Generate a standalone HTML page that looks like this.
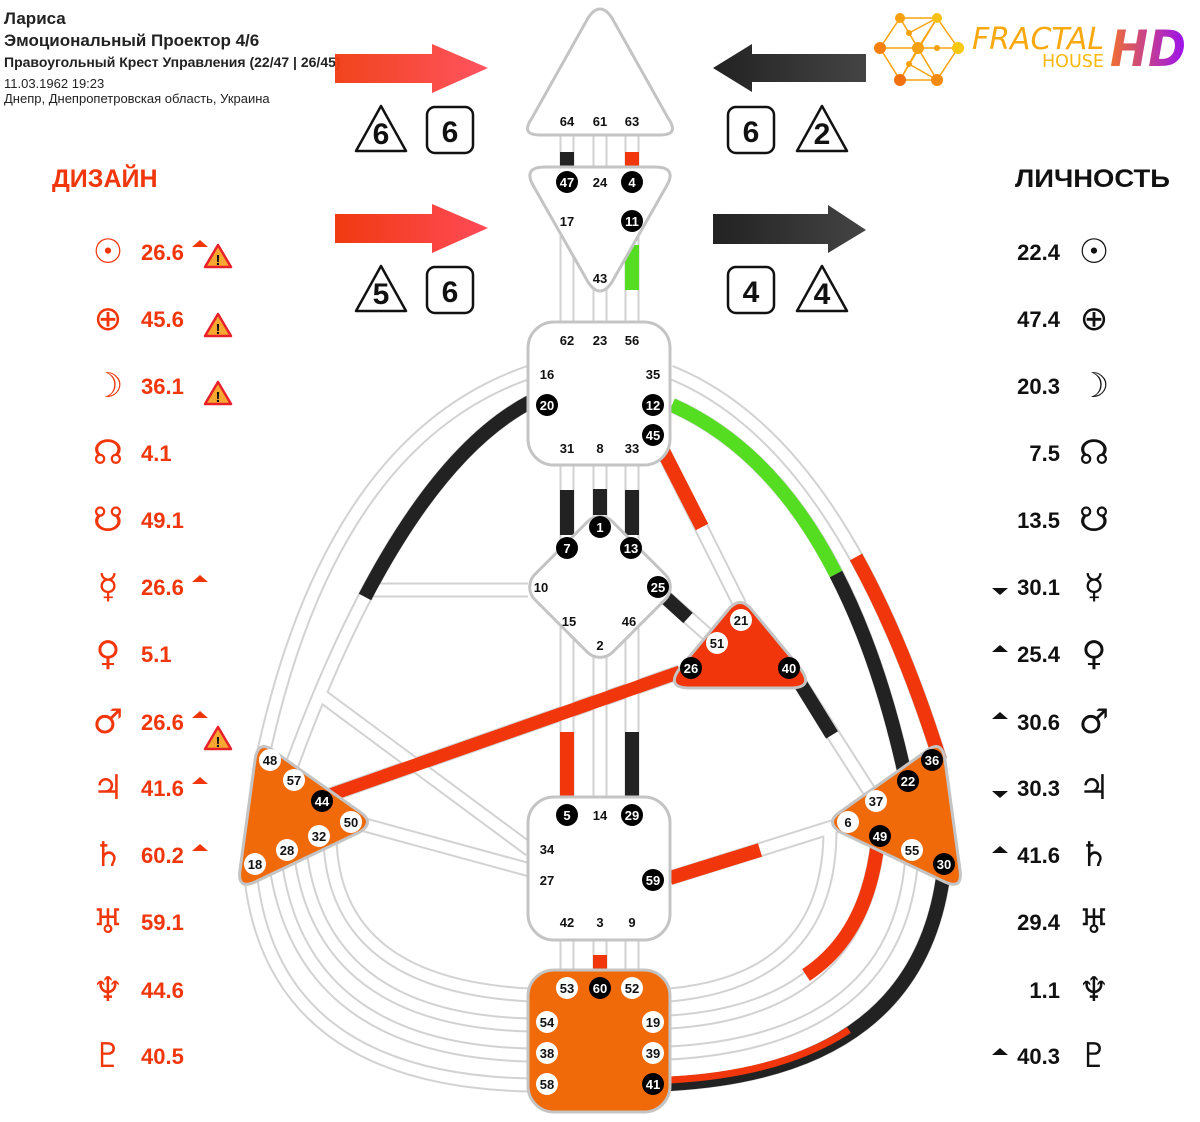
<!DOCTYPE html>
<html><head><meta charset="utf-8"><style>
body{margin:0;background:#fff;}
svg{display:block;font-family:"Liberation Sans","DejaVu Sans",sans-serif;}
.cg{fill:none;stroke:#d2d2d2;stroke-width:15;}
.cw{fill:none;stroke:#fff;stroke-width:11;}
.gt{font-size:13px;font-weight:bold;text-anchor:middle;}
.pl{font-size:22px;font-weight:bold;}
.sy{font-family:"DejaVu Sans",sans-serif;font-size:34px;text-anchor:middle;}
</style></head><body>
<svg width="1200" height="1122" viewBox="0 0 1200 1122">
<defs>
<linearGradient id="rg" x1="0" x2="1"><stop offset="0" stop-color="#f03a10"/><stop offset="1" stop-color="#ff4a58"/></linearGradient>
<linearGradient id="bg" x1="0" x2="1"><stop offset="0" stop-color="#222"/><stop offset="1" stop-color="#444"/></linearGradient>
<linearGradient id="hd" x1="0" x2="1"><stop offset="0" stop-color="#f07030"/><stop offset="1" stop-color="#9a10f0"/></linearGradient>
<g id="ch">
<path d="M567 130V175M600 130V175M632 130V175M567 200V330M600 285V330M632 200V330M567 455V540M600 455V520M632 455V540M567 620V800M600 640V800M632 620V800M567 935V975M600 935V975M632 935V975"/>
<path d="M530 372Q330 440 262 760"/>
<path d="M530 402Q400 470 290 770"/>
<path d="M365 590L528 590"/>
<path d="M318 693L530 850"/>
<path d="M365 825L530 870"/>
<path d="M250 870Q270 1080 530 1085"/>
<path d="M275 860Q300 1050 530 1055"/>
<path d="M300 850Q320 1020 530 1025"/>
<path d="M330 840Q335 985 530 995"/>
<path d="M670 372Q840 440 940 760"/>
<path d="M672 405Q840 480 905 775"/>
<path d="M660 445L740 605"/>
<path d="M665 597L717 643"/>
<path d="M795 675L875 800"/>
<path d="M670 878L848 822"/>
<path d="M878 840Q860 1010 670 1022"/>
<path d="M912 855Q900 1040 670 1053"/>
<path d="M944 870Q920 1070 670 1084"/>
<path d="M830 830Q830 980 670 995"/>
<path d="M680 672L330 795"/>
</g>
</defs>
<!-- header -->
<g fill="#222" font-weight="bold">
<text x="4" y="24" font-size="17">Лариса</text>
<text x="4" y="46" font-size="17">Эмоциональный Проектор 4/6</text>
<text x="4" y="67" font-size="14">Правоугольный Крест Управления (22/47 | 26/45)</text>
</g>
<text x="4" y="88" font-size="13" fill="#222">11.03.1962 19:23</text>
<text x="4" y="103" font-size="13" fill="#222">Днепр, Днепропетровская область, Украина</text>
<!-- arrows -->
<path d="M335 54H432V44L488 68L432 93V83H335Z" fill="url(#rg)" opacity="0.95"/>
<path d="M335 214H432V204L488 228L432 253V243H335Z" fill="url(#rg)"/>
<path d="M866 54H752V44L713 68L752 92V82H866Z" fill="url(#bg)"/>
<path d="M713 214H828V205L866 230L828 253V244H713Z" fill="url(#bg)"/>
<g fill="#fff" stroke="#111" stroke-width="2.5" stroke-linejoin="round">
<path d="M381 106L406 151H356Z"/><rect x="427" y="107" width="46" height="46" rx="8"/>
<rect x="728" y="107" width="46" height="46" rx="8"/><path d="M822 106L847 151H797Z"/>
<path d="M381 266L406 311H356Z"/><rect x="427" y="267" width="46" height="46" rx="8"/>
<rect x="728" y="267" width="46" height="46" rx="8"/><path d="M822 266L847 311H797Z"/>
</g>
<g font-size="30" font-weight="bold" text-anchor="middle" fill="#111">
<text x="381" y="144">6</text><text x="450" y="142">6</text><text x="751" y="142">6</text><text x="822" y="144">2</text>
<text x="381" y="304">5</text><text x="450" y="302">6</text><text x="751" y="302">4</text><text x="822" y="304">4</text>
</g>
<!-- logo -->
<g stroke="#f9a30e" stroke-width="1.5" fill="none">
<path d="M900 18L937 18L958 48L937 80L900 80L880 48Z"/>
<path d="M900 18L937 80M937 18L900 80M880 48L958 48M900 18L918 48L900 80M937 18L918 48L937 80M909 33L937 18M909 64L937 80"/>
</g>
<g fill="#f7a010"><circle cx="900" cy="18" r="5"/><circle cx="937" cy="18" r="5" fill="#f8c010"/><circle cx="880" cy="48" r="6" fill="#f58010"/><circle cx="958" cy="48" r="6" fill="#f8c810"/><circle cx="900" cy="80" r="6" fill="#f37010"/><circle cx="937" cy="80" r="6" fill="#f58a10"/><circle cx="918" cy="48" r="6"/><circle cx="909" cy="33" r="3"/><circle cx="909" cy="64" r="3"/><circle cx="937" cy="48" r="3"/></g>
<text x="972" y="49" font-size="30" font-style="italic" fill="#f9a80e" font-family="'DejaVu Sans',sans-serif" textLength="132" lengthAdjust="spacingAndGlyphs">FRACTAL</text>
<text x="1042" y="67" font-size="18" fill="#f9b80e" font-family="'DejaVu Sans',sans-serif" textLength="62" lengthAdjust="spacingAndGlyphs">HOUSE</text>
<text x="1110" y="66" font-size="50" font-weight="bold" font-style="italic" fill="url(#hd)" font-family="'DejaVu Sans',sans-serif" textLength="76" lengthAdjust="spacingAndGlyphs">HD</text>
<!-- titles -->
<text x="52" y="187" font-size="25" font-weight="bold" fill="#f0360a">ДИЗАЙН</text>
<text x="1015" y="187" font-size="25" font-weight="bold" fill="#111" textLength="155" lengthAdjust="spacingAndGlyphs">ЛИЧНОСТЬ</text>
<!-- channels -->
<use href="#ch" class="cg"/>
<use href="#ch" class="cw"/>
<g fill="none" stroke-width="14">
<path d="M567 152V167M567 490V535M632 490V535M632 732V797" stroke="#222"/>
<path d="M600 489V515" stroke="#222"/>
<path d="M632 152V167M567 732V797M600 955V970" stroke="#f0360a"/>
<path d="M632 245V290" stroke="#55dd22"/>
<path d="M530 402Q443 448 365 597" stroke="#222"/>
<path d="M856 557Q903 642 940 760" stroke="#f0360a"/>
<path d="M672 405Q773 450 836 574" stroke="#55dd22"/>
<path d="M836 574Q879 657 905 775" stroke="#222"/>
<path d="M660 445L702 527" stroke="#f0360a"/>
<path d="M665 597L688 618" stroke="#222"/>
<path d="M795 675L832 735" stroke="#222"/>
<path d="M670 878L760 850" stroke="#f0360a"/>
<path d="M878 840Q868 934 806 975" stroke="#f0360a"/>
<path d="M944 870Q920 1070 670 1084" stroke="#222"/>
<path d="M849 1030Q782 1074 670 1080" stroke="#f0360a" stroke-width="7"/>
<path d="M680 672L330 795" stroke="#f0360a" stroke-width="13"/>
</g>
<!-- centers -->
<g stroke="#c4c4c4" stroke-width="3">
<path d="M588 18Q600 0 612 18L668 118Q680 135 660 135L540 135Q520 135 532 118Z" fill="#fff"/>
<path d="M545 167L655 167Q678 167 666 187L612 282Q600 300 588 282L534 187Q522 167 545 167Z" fill="#fff"/>
<rect x="528" y="322" width="142" height="143" rx="26" fill="#fff"/>
<rect x="545" y="532" width="110" height="110" rx="18" fill="#fff" transform="rotate(45 600 587)"/>
<path d="M728 610Q740 595 752 610L800 668Q815 688 790 688L690 688Q665 688 680 668Z" fill="#f0360a"/>
<path d="M255 760Q258 738 275 752L360 812Q375 822 360 832L255 882Q237 890 240 870Z" fill="#f06a0a"/>
<path d="M945 760Q942 738 925 752L840 812Q825 822 840 832L945 882Q963 890 960 870Z" fill="#f06a0a"/>
<rect x="528" y="797" width="142" height="143" rx="26" fill="#fff"/>
<rect x="528" y="970" width="142" height="142" rx="26" fill="#f06a0a"/>
</g>
<!-- gates black -->
<g fill="#000"><circle cx="567" cy="182" r="11"/><circle cx="632" cy="182" r="11"/><circle cx="632" cy="221" r="11"/><circle cx="547" cy="405" r="11"/><circle cx="653" cy="405" r="11"/><circle cx="653" cy="435" r="11"/><circle cx="600" cy="527" r="11"/><circle cx="567" cy="548" r="11"/><circle cx="631" cy="548" r="11"/><circle cx="658" cy="587" r="11"/><circle cx="691" cy="668" r="11"/><circle cx="789" cy="668" r="11"/><circle cx="322" cy="801" r="11"/><circle cx="932" cy="760" r="11"/><circle cx="908" cy="781" r="11"/><circle cx="880" cy="836" r="11"/><circle cx="944" cy="864" r="11"/><circle cx="567" cy="815" r="11"/><circle cx="632" cy="815" r="11"/><circle cx="653" cy="880" r="11"/><circle cx="600" cy="988" r="11"/><circle cx="653" cy="1084" r="11"/></g>
<g fill="#fff"><circle cx="741" cy="620" r="11"/><circle cx="717" cy="643" r="11"/><circle cx="270" cy="760" r="11"/><circle cx="294" cy="780" r="11"/><circle cx="351" cy="822" r="11"/><circle cx="319" cy="836" r="11"/><circle cx="287" cy="850" r="11"/><circle cx="255" cy="864" r="11"/><circle cx="876" cy="801" r="11"/><circle cx="848" cy="822" r="11"/><circle cx="912" cy="850" r="11"/><circle cx="567" cy="988" r="11"/><circle cx="632" cy="988" r="11"/><circle cx="547" cy="1022" r="11"/><circle cx="653" cy="1022" r="11"/><circle cx="547" cy="1053" r="11"/><circle cx="653" cy="1053" r="11"/><circle cx="547" cy="1084" r="11"/></g>
<g class="gt" fill="#111">
<text x="567" y="126">64</text><text x="600" y="126">61</text><text x="632" y="126">63</text>
<text x="600" y="187">24</text><text x="567" y="226">17</text><text x="600" y="283">43</text>
<text x="567" y="345">62</text><text x="600" y="345">23</text><text x="632" y="345">56</text>
<text x="547" y="379">16</text><text x="653" y="379">35</text>
<text x="567" y="453">31</text><text x="600" y="453">8</text><text x="632" y="453">33</text>
<text x="541" y="592">10</text><text x="569" y="626">15</text><text x="629" y="626">46</text><text x="600" y="650">2</text>
<text x="600" y="820">14</text><text x="547" y="854">34</text><text x="547" y="885">27</text>
<text x="567" y="927">42</text><text x="600" y="927">3</text><text x="632" y="927">9</text>
<text x="741" y="625">21</text><text x="717" y="648">51</text>
<text x="270" y="765">48</text><text x="294" y="785">57</text><text x="351" y="827">50</text><text x="319" y="841">32</text><text x="287" y="855">28</text><text x="255" y="869">18</text>
<text x="876" y="806">37</text><text x="848" y="827">6</text><text x="912" y="855">55</text>
<text x="567" y="993">53</text><text x="632" y="993">52</text><text x="547" y="1027">54</text><text x="653" y="1027">19</text><text x="547" y="1058">38</text><text x="653" y="1058">39</text><text x="547" y="1089">58</text>
</g>
<g class="gt" fill="#fff">
<text x="567" y="187">47</text><text x="632" y="187">4</text><text x="632" y="226">11</text>
<text x="547" y="410">20</text><text x="653" y="410">12</text><text x="653" y="440">45</text>
<text x="600" y="532">1</text><text x="567" y="553">7</text><text x="631" y="553">13</text><text x="658" y="592">25</text>
<text x="691" y="673">26</text><text x="789" y="673">40</text><text x="322" y="806">44</text>
<text x="932" y="765">36</text><text x="908" y="786">22</text><text x="880" y="841">49</text><text x="944" y="869">30</text>
<text x="567" y="820">5</text><text x="632" y="820">29</text><text x="653" y="885">59</text>
<text x="600" y="993">60</text><text x="653" y="1089">41</text>
</g>
<!-- planets left -->
<g fill="#f0360a">
<g class="sy"><text x="108" y="263">☉</text><text x="108" y="330">⊕</text><text x="108" y="397">☽</text><text x="108" y="464">☊</text><text x="108" y="531">☋</text><text x="108" y="598">☿</text><text x="108" y="665">♀</text><text x="108" y="733">♂</text><text x="108" y="799">♃</text><text x="108" y="866">♄</text><text x="108" y="933">♅</text><text x="108" y="1001">♆</text><text x="108" y="1067">♇</text></g>
<g class="pl"><text x="141" y="260">26.6</text><text x="141" y="327">45.6</text><text x="141" y="394">36.1</text><text x="141" y="461">4.1</text><text x="141" y="528">49.1</text><text x="141" y="595">26.6</text><text x="141" y="662">5.1</text><text x="141" y="730">26.6</text><text x="141" y="796">41.6</text><text x="141" y="863">60.2</text><text x="141" y="930">59.1</text><text x="141" y="998">44.6</text><text x="141" y="1064">40.5</text></g>
<path d="M192 247L200 240L208 247ZM192 582L200 575L208 582ZM192 718L200 711L208 718ZM192 784L200 777L208 784ZM192 851L200 844L208 851Z"/>
</g>
<g stroke="#e8202a" stroke-width="2.5" fill="#f8a830" stroke-linejoin="round">
<path d="M218 245L231 267H205Z"/><path d="M218 314L231 336H205Z"/><path d="M218 382L231 404H205Z"/><path d="M218 727L231 749H205Z"/>
</g>
<g font-size="15" font-weight="bold" fill="#111" text-anchor="middle"><text x="218" y="265">!</text><text x="218" y="334">!</text><text x="218" y="402">!</text><text x="218" y="747">!</text></g>
<!-- planets right -->
<g fill="#111">
<g class="sy"><text x="1094" y="263">☉</text><text x="1094" y="330">⊕</text><text x="1094" y="397">☽</text><text x="1094" y="464">☊</text><text x="1094" y="531">☋</text><text x="1094" y="598">☿</text><text x="1094" y="665">♀</text><text x="1094" y="733">♂</text><text x="1094" y="799">♃</text><text x="1094" y="866">♄</text><text x="1094" y="933">♅</text><text x="1094" y="1001">♆</text><text x="1094" y="1067">♇</text></g>
<g class="pl" text-anchor="end"><text x="1060" y="260">22.4</text><text x="1060" y="327">47.4</text><text x="1060" y="394">20.3</text><text x="1060" y="461">7.5</text><text x="1060" y="528">13.5</text><text x="1060" y="595">30.1</text><text x="1060" y="662">25.4</text><text x="1060" y="730">30.6</text><text x="1060" y="796">30.3</text><text x="1060" y="863">41.6</text><text x="1060" y="930">29.4</text><text x="1060" y="998">1.1</text><text x="1060" y="1064">40.3</text></g>
<path d="M992 588L1000 595L1008 588ZM992 791L1000 798L1008 791ZM992 652L1000 645L1008 652ZM992 719L1000 712L1008 719ZM992 853L1000 846L1008 853ZM992 1055L1000 1048L1008 1055Z"/>
</g>
</svg>
</body></html>
